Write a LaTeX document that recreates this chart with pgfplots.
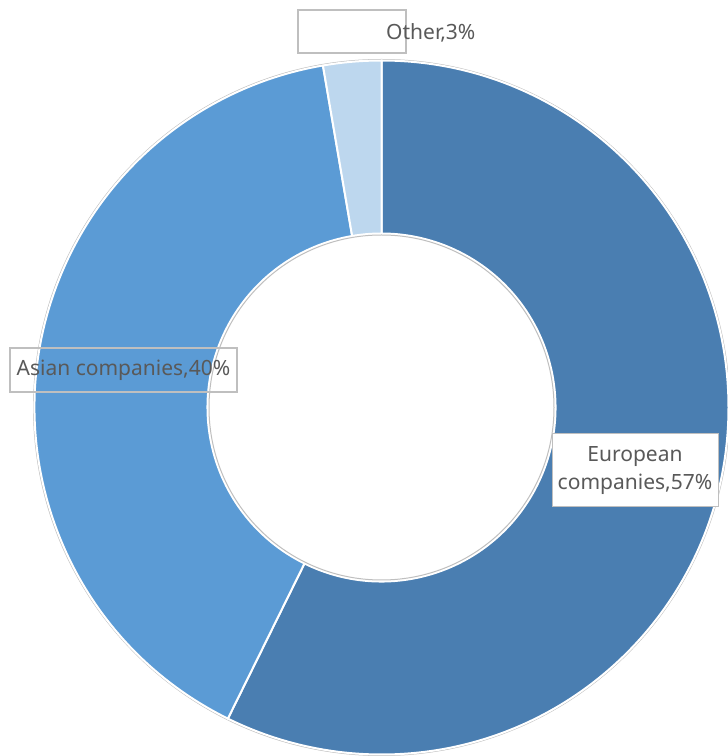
\documentclass[border=0pt]{standalone}
\usepackage{pgfplots}
\usepackage{pgfplotstable}
\usepackage{fontspec}
\setmainfont{Noto Sans}
\pgfplotsset{compat=1.18}
\definecolor{euro}{HTML}{4A7EB1}
\definecolor{asia}{HTML}{5B9BD5}
\definecolor{other}{HTML}{BDD7EE}
\definecolor{txt}{HTML}{595959}
\definecolor{edge}{HTML}{BFBFBF}
\pgfplotstableread{
label share
European 57.3
Asian 40.0
Other 2.7
}\sharetable
\def\cx{381.5}\def\cy{348.5}\def\Ro{347}\def\Ri{174}
\newcommand\slicepts[3]{% #1 name, #2 start, #3 end
  \pgfmathsetmacro\tmpa{\cx+\Ro*cos(#2)}\expandafter\let\csname #1xa\endcsname\tmpa
  \pgfmathsetmacro\tmpa{\cy+\Ro*sin(#2)}\expandafter\let\csname #1ya\endcsname\tmpa
  \pgfmathsetmacro\tmpa{\cx+\Ri*cos(#3)}\expandafter\let\csname #1xb\endcsname\tmpa
  \pgfmathsetmacro\tmpa{\cy+\Ri*sin(#3)}\expandafter\let\csname #1yb\endcsname\tmpa
}
\begin{document}
\begin{tikzpicture}
\pgfplotstablegetelem{0}{share}\of\sharetable \let\sA\pgfplotsretval
\pgfplotstablegetelem{1}{share}\of\sharetable \let\sB\pgfplotsretval
\pgfplotstablegetelem{2}{share}\of\sharetable \let\sC\pgfplotsretval
\pgfmathsetmacro\aA{90}%
\pgfmathsetmacro\aB{90-3.6*\sA}%
\pgfmathsetmacro\aC{\aB-3.6*\sB}%
\pgfmathsetmacro\aD{\aC-3.6*\sC}%
\slicepts{E}{\aA}{\aB}%
\slicepts{A}{\aB}{\aC}%
\slicepts{O}{\aC}{\aD}%
\begin{axis}[name=ax,
  scale only axis, width=728pt, height=756pt,
  xmin=0, xmax=728, ymin=0, ymax=756,
  hide axis, clip=true,
]
\fill[edge] (axis cs:\cx,\cy) circle[radius=348.5];
\fill[white] (axis cs:\cx,\cy) circle[radius=347];
\filldraw[fill=euro, draw=white, line width=2pt, line join=round]
  (axis cs:\Exa,\Eya) arc[start angle=\aA, end angle=\aB, radius=\Ro]
  -- (axis cs:\Exb,\Eyb) arc[start angle=\aB, end angle=\aA, radius=\Ri] -- cycle;
\filldraw[fill=asia, draw=white, line width=2pt, line join=round]
  (axis cs:\Axa,\Aya) arc[start angle=\aB, end angle=\aC, radius=\Ro]
  -- (axis cs:\Axb,\Ayb) arc[start angle=\aC, end angle=\aB, radius=\Ri] -- cycle;
\filldraw[fill=other, draw=white, line width=2pt, line join=round]
  (axis cs:\Oxa,\Oya) arc[start angle=\aC, end angle=\aD, radius=\Ro]
  -- (axis cs:\Oxb,\Oyb) arc[start angle=\aD, end angle=\aC, radius=\Ri] -- cycle;
\draw[edge, line width=1pt] (axis cs:\cx,\cy) circle[radius=172.5];
% labels
\draw[edge, line width=1.5pt] (axis cs:298,746) rectangle (axis cs:406,703);
\node[text=txt, font=\fontsize{21}{25}\selectfont, anchor=west, inner sep=0pt] at (axis cs:386,723) {Other,3\%};
\draw[edge, line width=1.5pt] (axis cs:10,408) rectangle (axis cs:237,364);
\node[text=txt, font=\fontsize{21}{25}\selectfont] at (axis cs:123.5,386) {Asian companies,40\%};
\filldraw[fill=white, draw=edge, line width=1pt] (axis cs:552,322) rectangle (axis cs:718,249);
\node[text=txt, font=\fontsize{21}{28}\selectfont, align=center] at (axis cs:635,285.5) {European\\companies,57\%};
\end{axis}
\pgfresetboundingbox
\path (ax.south west) rectangle (ax.north east);
\end{tikzpicture}
\end{document}
